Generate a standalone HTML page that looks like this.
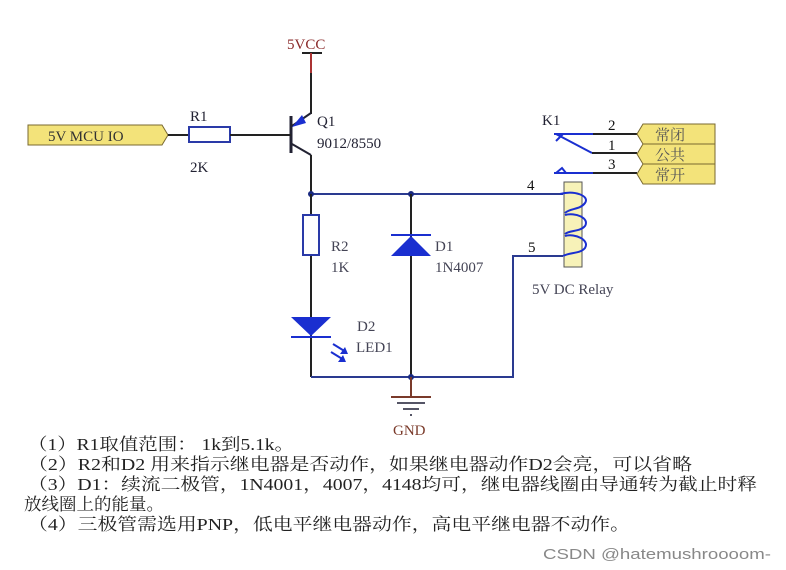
<!DOCTYPE html>
<html><head><meta charset="utf-8"><style>
html,body{margin:0;padding:0;background:#fff;}
svg{display:block;}
.t{font-family:"Liberation Serif","Noto Serif CJK SC",serif;}
.n{font-family:"Liberation Serif","Noto Serif CJK SC",serif;font-size:15px;fill:#111;}
</style></head><body>
<svg width="786" height="570" viewBox="0 0 786 570" xmlns="http://www.w3.org/2000/svg">
<rect width="786" height="570" fill="#fff"/>
<!-- VCC -->
<text x="287" y="49" class="t" font-size="15" fill="#8a2a2a">5VCC</text>
<line x1="302" y1="53" x2="322" y2="53" stroke="#222" stroke-width="2"/>
<line x1="311" y1="53" x2="311" y2="73" stroke="#a33" stroke-width="2"/>
<line x1="311" y1="73" x2="311" y2="114" stroke="#222" stroke-width="2"/>
<!-- transistor -->
<line x1="291" y1="116" x2="291" y2="153" stroke="#223" stroke-width="3"/>
<line x1="292" y1="126" x2="311" y2="113" stroke="#223" stroke-width="2"/>
<polygon points="292,127 302,115 306,123" fill="#1a2fd0"/>
<line x1="292" y1="144" x2="311" y2="155" stroke="#223" stroke-width="2"/>
<line x1="311" y1="155" x2="311" y2="193" stroke="#222" stroke-width="2"/>
<text x="317" y="126" class="t" font-size="15" fill="#223">Q1</text>
<text x="317" y="148" class="t" font-size="15" fill="#223">9012/8550</text>
<!-- input -->
<polygon points="28,125 162,125 168,135 162,145 28,145" fill="#f3e37a" stroke="#7a6a30" stroke-width="1"/>
<text x="48" y="141" class="t" font-size="15" fill="#333">5V MCU  IO</text>
<line x1="168" y1="135" x2="188" y2="135" stroke="#222" stroke-width="2"/>
<rect x="189" y="127" width="41" height="15" fill="#fff" stroke="#2a3aa8" stroke-width="2"/>
<line x1="230" y1="135" x2="291" y2="135" stroke="#222" stroke-width="2"/>
<text x="190" y="121" class="t" font-size="15" fill="#223">R1</text>
<text x="190" y="172" class="t" font-size="15" fill="#223">2K</text>
<!-- top rail -->
<line x1="311" y1="194" x2="563" y2="194" stroke="#2a3a90" stroke-width="2"/>
<circle cx="311" cy="194" r="3" fill="#1a2a80"/>
<circle cx="411" cy="194" r="3" fill="#1a2a80"/>
<text x="527" y="190" class="n">4</text>
<!-- R2 -->
<line x1="311" y1="194" x2="311" y2="377" stroke="#222" stroke-width="2"/>
<rect x="303" y="215" width="16" height="40" fill="#fff" stroke="#2a3aa8" stroke-width="2"/>
<text x="331" y="251" class="t" font-size="15" fill="#445">R2</text>
<text x="331" y="272" class="t" font-size="15" fill="#445">1K</text>
<!-- LED -->
<polygon points="291,317 331,317 311,336" fill="#1a2fd0"/>
<line x1="291" y1="337" x2="331" y2="337" stroke="#1a2fd0" stroke-width="2"/>
<line x1="333" y1="344" x2="346" y2="352" stroke="#1a2fd0" stroke-width="2"/>
<line x1="331" y1="352" x2="344" y2="360" stroke="#1a2fd0" stroke-width="2"/>
<polygon points="348,354 340,354 345,347" fill="#1a2fd0"/>
<polygon points="346,362 338,362 343,355" fill="#1a2fd0"/>
<text x="357" y="331" class="t" font-size="15" fill="#445">D2</text>
<text x="356" y="352" class="t" font-size="15" fill="#445">LED1</text>
<!-- D1 -->
<line x1="411" y1="194" x2="411" y2="377" stroke="#222" stroke-width="2"/>
<line x1="391" y1="235" x2="431" y2="235" stroke="#1a2fd0" stroke-width="2"/>
<polygon points="411,236 391,256 431,256" fill="#1a2fd0"/>
<text x="435" y="251" class="t" font-size="15" fill="#445">D1</text>
<text x="435" y="272" class="t" font-size="15" fill="#445">1N4007</text>
<!-- bottom rail -->
<polyline points="311,377 513,377 513,256 563,256" fill="none" stroke="#2a3a90" stroke-width="2"/>
<circle cx="411" cy="377" r="3" fill="#1a2a80"/>
<text x="528" y="252" class="n">5</text>
<!-- GND -->
<line x1="411" y1="377" x2="411" y2="397" stroke="#7a3a2a" stroke-width="2"/>
<line x1="391" y1="397" x2="431" y2="397" stroke="#7a3a2a" stroke-width="2"/>
<line x1="397" y1="403" x2="425" y2="403" stroke="#556" stroke-width="2"/>
<line x1="403" y1="409" x2="419" y2="409" stroke="#556" stroke-width="2"/>
<line x1="410" y1="415" x2="412" y2="415" stroke="#556" stroke-width="2"/>
<text x="393" y="435" class="t" font-size="15" fill="#7a3a2a">GND</text>
<!-- relay -->
<text x="542" y="125" class="t" font-size="15" fill="#223">K1</text>
<line x1="554" y1="134" x2="593" y2="134" stroke="#1a2fd0" stroke-width="2"/>
<line x1="593" y1="134" x2="637" y2="134" stroke="#222" stroke-width="2"/>
<line x1="556" y1="134" x2="592" y2="153" stroke="#1a2fd0" stroke-width="2"/>
<line x1="556" y1="141" x2="563" y2="134" stroke="#1a2fd0" stroke-width="2"/>
<line x1="592" y1="153" x2="637" y2="153" stroke="#222" stroke-width="2"/>
<line x1="554" y1="173" x2="593" y2="173" stroke="#1a2fd0" stroke-width="2"/>
<polyline points="556,173 562,168 566,173" fill="none" stroke="#1a2fd0" stroke-width="2"/>
<line x1="593" y1="173" x2="637" y2="173" stroke="#222" stroke-width="2"/>
<text x="608" y="130" class="n">2</text>
<text x="608" y="150" class="n">1</text>
<text x="608" y="169" class="n">3</text>
<g fill="#f3e37a" stroke="#7a6a30" stroke-width="1">
<polygon points="643,124 715,124 715,144 643,144 637,134"/>
<polygon points="643,144 715,144 715,164 643,164 637,154"/>
<polygon points="643,164 715,164 715,184 643,184 637,174"/>
</g>
<g class="t" font-size="15" fill="#555">
<text x="655" y="140">常闭</text>
<text x="655" y="160">公共</text>
<text x="655" y="180">常开</text>
</g>
<rect x="564" y="182" width="18" height="85" fill="#f7f2b8" stroke="#555" stroke-width="1"/>
<g fill="none" stroke="#1a2fd0" stroke-width="2">
<path d="M560,194 C575,190 590,196 585,203 C580,210 570,208 565,213"/>
<path d="M565,215 C575,212 590,218 585,226 C580,232 570,230 565,234"/>
<path d="M565,236 C575,233 590,240 585,248 C580,254 570,252 563,256"/>
</g>
<text x="532" y="294" class="t" font-size="15" fill="#445">5V DC Relay</text>
<!-- notes -->
<g class="t" font-size="17" fill="#222">
<text x="28" y="450" textLength="266" lengthAdjust="spacingAndGlyphs">（1）R1取值范围： 1k到5.1k。</text>
<text x="28" y="470" textLength="664" lengthAdjust="spacingAndGlyphs">（2）R2和D2 用来指示继电器是否动作，如果继电器动作D2会亮，可以省略</text>
<text x="28" y="490" textLength="729" lengthAdjust="spacingAndGlyphs">（3）D1：续流二极管，1N4001，4007，4148均可，继电器线圈由导通转为截止时释</text>
<text x="24" y="510" textLength="140" lengthAdjust="spacingAndGlyphs">放线圈上的能量。</text>
<text x="28" y="530" textLength="602" lengthAdjust="spacingAndGlyphs">（4）三极管需选用PNP，低电平继电器动作，高电平继电器不动作。</text>
</g>
<text x="543" y="559" font-family="Liberation Sans,sans-serif" font-size="15" fill="#888" textLength="228" lengthAdjust="spacingAndGlyphs">CSDN @hatemushroooom-</text>
</svg>
</body></html>
